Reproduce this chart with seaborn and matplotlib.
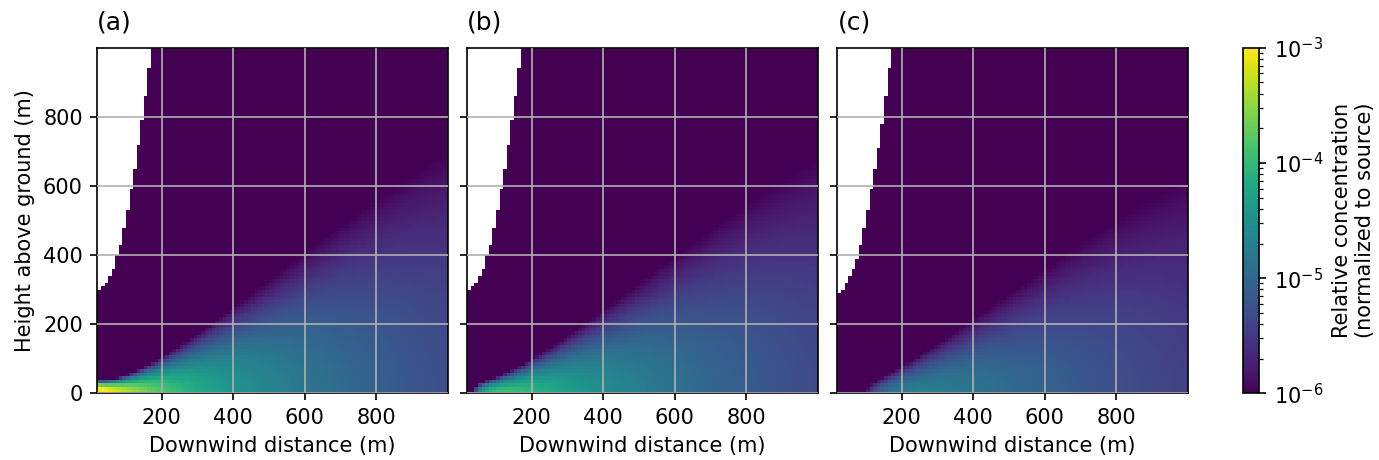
import numpy as np
import pandas as pd
import matplotlib
matplotlib.use("Agg")
import matplotlib.pyplot as plt
from matplotlib.colors import LogNorm
import seaborn as sns

# Receptor grid: cell edges of the vertical section (m)
x_edges = np.arange(20, 1001, 10)
z_edges = np.arange(0, 1001, 10)

# One panel per crosswind offset of the section from the plume axis (m)
panel_labels = ["(a)", "(b)", "(c)"]
crosswind_offsets = [0.0, 50.0, 100.0]

# Release and meteorology
source_rate = 1.0        # normalized emission rate
release_height = 10.0    # m
wind_speed = 1.32        # m/s
sigma_z_initial = 7.5    # m, initial vertical spread of the release

# Dispersion coefficients
sigma_y_coef = 0.41      # sigma_y = a * x / sqrt(1 + x / L)
sigma_y_scale = 100.0    # L, m
sigma_z_coef = 0.0076    # sigma_z = a * x**b
sigma_z_power = 1.57

colour_limits = [1e-6, 1e-3]
x_ticks = [200, 400, 600, 800]
z_ticks = [0, 200, 400, 600, 800]


def sigma_y(x):
    return sigma_y_coef * x / np.sqrt(1.0 + x / sigma_y_scale)


def sigma_z(x):
    return np.sqrt(sigma_z_initial ** 2 + (sigma_z_coef * x ** sigma_z_power) ** 2)


def concentration(x, z, y):
    sy = sigma_y(x)
    sz = sigma_z(x)
    lateral = np.exp(-y ** 2 / (2 * sy ** 2))
    vertical = (np.exp(-(z - release_height) ** 2 / (2 * sz ** 2))
                + np.exp(-(z + release_height) ** 2 / (2 * sz ** 2)))
    return source_rate / (2 * np.pi * wind_speed * sy * sz) * lateral * vertical


x_centres = 0.5 * (x_edges[:-1] + x_edges[1:])
z_centres = 0.5 * (z_edges[:-1] + z_edges[1:])
X, Z = np.meshgrid(x_centres, z_centres)

sns.set_theme(style="ticks", rc={
    "font.size": 10, "axes.labelsize": 10, "axes.titlesize": 12,
    "xtick.labelsize": 10, "ytick.labelsize": 10,
    "text.color": "black", "axes.labelcolor": "black",
    "xtick.color": "black", "ytick.color": "black",
    "axes.edgecolor": "black", "axes.linewidth": 0.8,
    "xtick.major.size": 3.5, "ytick.major.size": 3.5,
    "xtick.major.width": 0.8, "ytick.major.width": 0.8,
    "xtick.minor.size": 2.0, "ytick.minor.size": 2.0,
    "xtick.minor.width": 0.6, "ytick.minor.width": 0.6,
})
plt.rcParams["font.family"] = ["DejaVu Sans"]

cmap = sns.color_palette("viridis", as_cmap=True)

fig = plt.figure(figsize=(1379 / 150, 460 / 150), dpi=150)
axes_left = [0.0706, 0.3389, 0.6073]
ax_bottom, ax_width, ax_height = 0.1446, 0.2541, 0.7517
cax = fig.add_axes([0.9012, ax_bottom, 0.0120, ax_height])

x_index = np.arange(len(x_edges))
z_index = np.arange(len(z_edges))

for i, (label, offset) in enumerate(zip(panel_labels, crosswind_offsets)):
    ax = fig.add_axes([axes_left[i], ax_bottom, ax_width, ax_height])
    conc = concentration(X, Z, offset)
    conc = np.where(conc > 0, conc, np.nan)
    field = pd.DataFrame(conc, index=z_centres, columns=x_centres)
    last = i == len(panel_labels) - 1
    sns.heatmap(field, ax=ax, cmap=cmap,
                norm=LogNorm(vmin=colour_limits[0], vmax=colour_limits[1]),
                cbar=last, cbar_ax=cax if last else None,
                xticklabels=False, yticklabels=False)
    ax.set_ylim(0, len(z_centres))

    ax.set_xticks(np.interp(x_ticks, x_edges, x_index))
    ax.set_xticklabels([str(t) for t in x_ticks])
    ax.set_yticks(np.interp(z_ticks, z_edges, z_index))
    if i == 0:
        ax.set_yticklabels([str(t) for t in z_ticks])
        ax.set_ylabel("Height above ground (m)")
    else:
        ax.set_yticklabels([])
        ax.set_ylabel("")
    ax.set_xlabel("Downwind distance (m)")
    ax.tick_params(axis="both", direction="out", length=3.5, width=0.8,
                   colors="black", labelsize=10, rotation=0)

    for spine in ax.spines.values():
        spine.set_visible(True)
        spine.set_color("black")
        spine.set_linewidth(0.8)
    ax.grid(True, color="#b0b0b0", linewidth=0.8)
    ax.set_axisbelow(False)
    ax.set_title(label, loc="left", fontsize=12, pad=8.5)

    if last:
        cb = ax.collections[0].colorbar
        cb.outline.set_linewidth(0.8)
        cb.outline.set_edgecolor("black")
        cb.ax.tick_params(labelsize=10, colors="black")
        cb.set_label("Relative concentration\n(normalized to source)", fontsize=10)

fig.savefig("out.png", dpi=150)
